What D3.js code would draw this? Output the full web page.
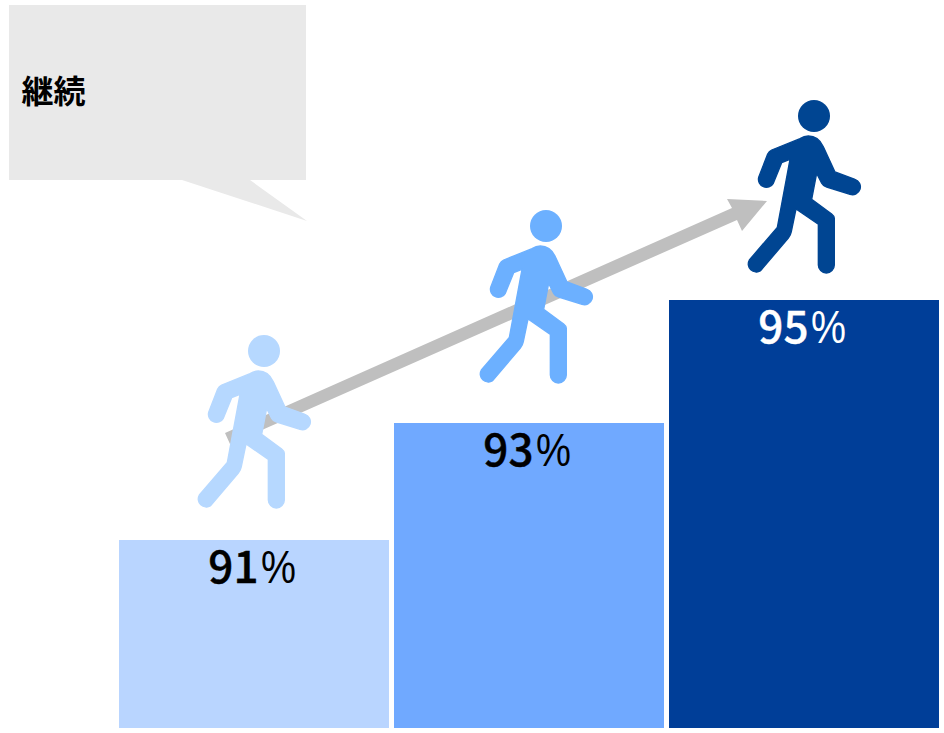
<!DOCTYPE html>
<html><head><meta charset="utf-8">
<script src="https://cdn.jsdelivr.net/npm/d3@7/dist/d3.min.js"></script>
<style>html,body{margin:0;padding:0;background:#fff}svg{display:block}</style>
</head><body><svg id="c" width="944" height="733"></svg>
<script>
const categories = ["A", "B", "C"];
const values = [91, 92.95, 95];
const labels = ["91", "93", "95"];
const unit = "%";
const barColors = ["#b9d5ff", "#70a9ff", "#003e98"];
const iconColors = ["#b6d8ff", "#6cb0ff", "#004592"];
const labelColors = ["#000", "#000", "#fff"];
const callout = "継続";

const svg = d3.select("#c");
const font = "'Noto Sans CJK JP','Noto Sans',sans-serif";
const x = d3.scaleBand().domain(categories).range([119, 939]).paddingInner(5/275).paddingOuter(0);
const y = d3.scaleLinear().domain([87.867, 95]).range([728, 300]);

// callout
svg.append("path").attr("fill", "#e9e9e9")
  .attr("d", "M9,5H306V180H250L307,221L182,180H9Z");
svg.append("text").attr("x", 21.5).attr("y", 103).attr("font-family", font)
  .attr("font-size", 32).attr("font-weight", 700).attr("fill", "#000").text(callout);

// bars
svg.selectAll("rect.bar").data(categories).join("rect").attr("class", "bar")
  .attr("x", d => x(d)).attr("width", x.bandwidth())
  .attr("y", (d, i) => y(values[i])).attr("height", (d, i) => 728 - y(values[i]))
  .attr("fill", (d, i) => barColors[i]);

// arrow
svg.append("path").attr("fill", "#bfbfbf")
  .attr("d", "M225,433L732,208L727,199L767,201L742,231L737,220L230,444Z");

// labels
const cx = d => x(d) + x.bandwidth() / 2;
svg.selectAll("text.val").data(categories).join("text").attr("class", "val")
  .attr("x", d => cx(d) + 4.5).attr("text-anchor", "end")
  .attr("y", (d, i) => y(values[i]) + 43)
  .attr("fill", (d, i) => labelColors[i]).attr("stroke", (d, i) => labelColors[i]).attr("stroke-width", 0.4)
  .attr("font-family", font).attr("font-size", 44).attr("font-weight", 500)
  .text((d, i) => labels[i]);
svg.selectAll("text.unit").data(categories).join("text").attr("class", "unit")
  .attr("x", d => cx(d) + 7)
  .attr("y", (d, i) => y(values[i]) + 43)
  .attr("fill", (d, i) => labelColors[i])
  .attr("font-family", "'Liberation Sans',sans-serif").attr("font-size", 47)
  .attr("textLength", 35).attr("lengthAdjust", "spacingAndGlyphs")
  .text(unit);

// walking person glyph, drawn in zoom units around the head centre
const body = "M240,146L155,180Q147,184 143,192L116,262A24,24 0 0 0 160,280L185,218L210,208L172,412L88,510A24,24 0 0 0 122,542L205,444Q212,436 214,425L228,357L295,403V525A24,24 0 0 0 343,525V385Q343,378 335,372L275,328L290,250L305,280Q309,288 320,291L390,313A23,23 0 0 0 405,268L345,246L310,170Q295,138 265,138Q252,138 240,146Z";
const dx = [10, 17, 10], dy = [-189, -197, -184];
const g = svg.selectAll("g.p").data(categories).join("g").attr("class", "p")
  .attr("fill", (d, i) => iconColors[i]).attr("stroke", (d, i) => iconColors[i])
  .attr("transform", (d, i) => `translate(${cx(d) + dx[i]},${y(values[i]) + dy[i]})`);
g.append("circle").attr("r", 16).attr("stroke", "none");
g.append("path").attr("transform", "scale(0.3333) translate(-282,-78)").attr("stroke-width", 4).attr("stroke-linejoin", "round").attr("d", body);
</script></body></html>
